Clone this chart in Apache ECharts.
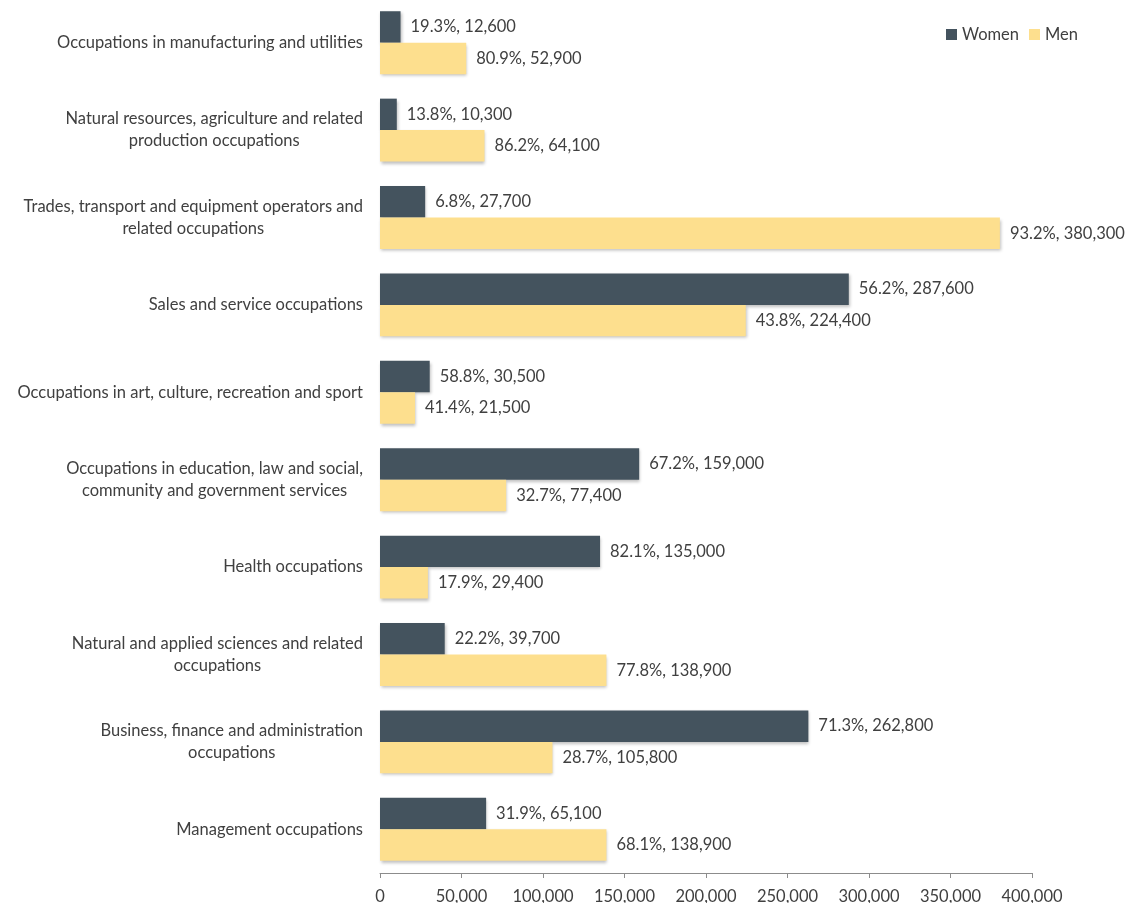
<!DOCTYPE html>
<html>
<head>
<meta charset="utf-8">
<script src="https://cdn.jsdelivr.net/npm/echarts@6/dist/echarts.min.js"></script>
<style>
  html, body { margin: 0; padding: 0; background: #ffffff; }
  #chart { width: 1141px; height: 903px; }
</style>
</head>
<body>
<div id="chart"></div>
<script>
// Occupational groups, top to bottom
const categories = [
  'Occupations in manufacturing and utilities',
  'Natural resources, agriculture and related\nproduction occupations',
  'Trades, transport and equipment operators and\nrelated occupations',
  'Sales and service occupations',
  'Occupations in art, culture, recreation and sport',
  'Occupations in education, law and social,\ncommunity and government services',
  'Health occupations',
  'Natural and applied sciences and related\noccupations',
  'Business, finance and administration\noccupations',
  'Management occupations'
];

const womenCounts = [12600, 10300, 27700, 287600, 30500, 159000, 135000, 39700, 262800, 65100];
const womenShares = ['19.3%', '13.8%', '6.8%', '56.2%', '58.8%', '67.2%', '82.1%', '22.2%', '71.3%', '31.9%'];

const menCounts = [52900, 64100, 380300, 224400, 21500, 77400, 29400, 138900, 105800, 138900];
const menShares = ['80.9%', '86.2%', '93.2%', '43.8%', '41.4%', '32.7%', '17.9%', '77.8%', '28.7%', '68.1%'];

const xTicks = { min: 0, max: 400000, interval: 50000 };

const FONT = 'Lato';
const SIZE = 16.5;
const TEXT = '#404040';

function fmt(n) {
  return n.toLocaleString('en-US');
}

function barLabel(shares) {
  return {
    show: true,
    position: 'right',
    distance: 10,
    color: TEXT,
    fontFamily: FONT,
    fontSize: SIZE,
    formatter: p => shares[p.dataIndex] + ', ' + fmt(p.value)
  };
}

const shadow = {
  shadowColor: 'rgba(0,0,0,0.25)',
  shadowBlur: 3,
  shadowOffsetX: 1,
  shadowOffsetY: 2
};

const chart = echarts.init(document.getElementById('chart'), null, { renderer: 'canvas' });

chart.setOption({
  animation: false,
  backgroundColor: '#ffffff',
  textStyle: { fontFamily: FONT },
  legend: {
    top: 21,
    right: 58,
    itemWidth: 11,
    itemHeight: 11,
    itemGap: 10,
    icon: 'rect',
    textStyle: { color: TEXT, fontFamily: FONT, fontSize: SIZE, padding: [0, 0, 0, 0] },
    data: ['Women', 'Men']
  },
  grid: { left: 380, right: 109, top: -1, bottom: 30, containLabel: false, outerBoundsMode: 'none' },
  xAxis: {
    type: 'value',
    min: xTicks.min,
    max: xTicks.max,
    interval: xTicks.interval,
    axisLine: { show: true, lineStyle: { color: '#8c8c8c', width: 1 } },
    axisTick: { show: true, length: 5, lineStyle: { color: '#8c8c8c' } },
    splitLine: { show: false },
    axisLabel: {
      color: TEXT,
      fontFamily: FONT,
      fontSize: SIZE,
      margin: 15,
      formatter: v => fmt(v)
    }
  },
  yAxis: {
    type: 'category',
    inverse: true,
    data: categories,
    axisLine: { show: false },
    axisTick: { show: false },
    axisLabel: {
      margin: 17,
      color: TEXT,
      fontFamily: FONT,
      fontSize: SIZE,
      lineHeight: 22,
      formatter: v => v.split('\n').map(s => '{c|' + s + '}').join('\n'),
      rich: {
        c: { align: 'center', color: TEXT, fontFamily: FONT, fontSize: SIZE, lineHeight: 22 }
      }
    }
  },
  series: [
    {
      name: 'Women',
      type: 'bar',
      data: womenCounts,
      barGap: '0%',
      barCategoryGap: '28%',
      itemStyle: Object.assign({ color: '#44535e' }, shadow),
      label: barLabel(womenShares)
    },
    {
      name: 'Men',
      type: 'bar',
      data: menCounts,
      barGap: '0%',
      barCategoryGap: '28%',
      itemStyle: Object.assign({ color: '#fddf8e' }, shadow),
      label: barLabel(menShares)
    }
  ]
});
</script>
</body>
</html>
